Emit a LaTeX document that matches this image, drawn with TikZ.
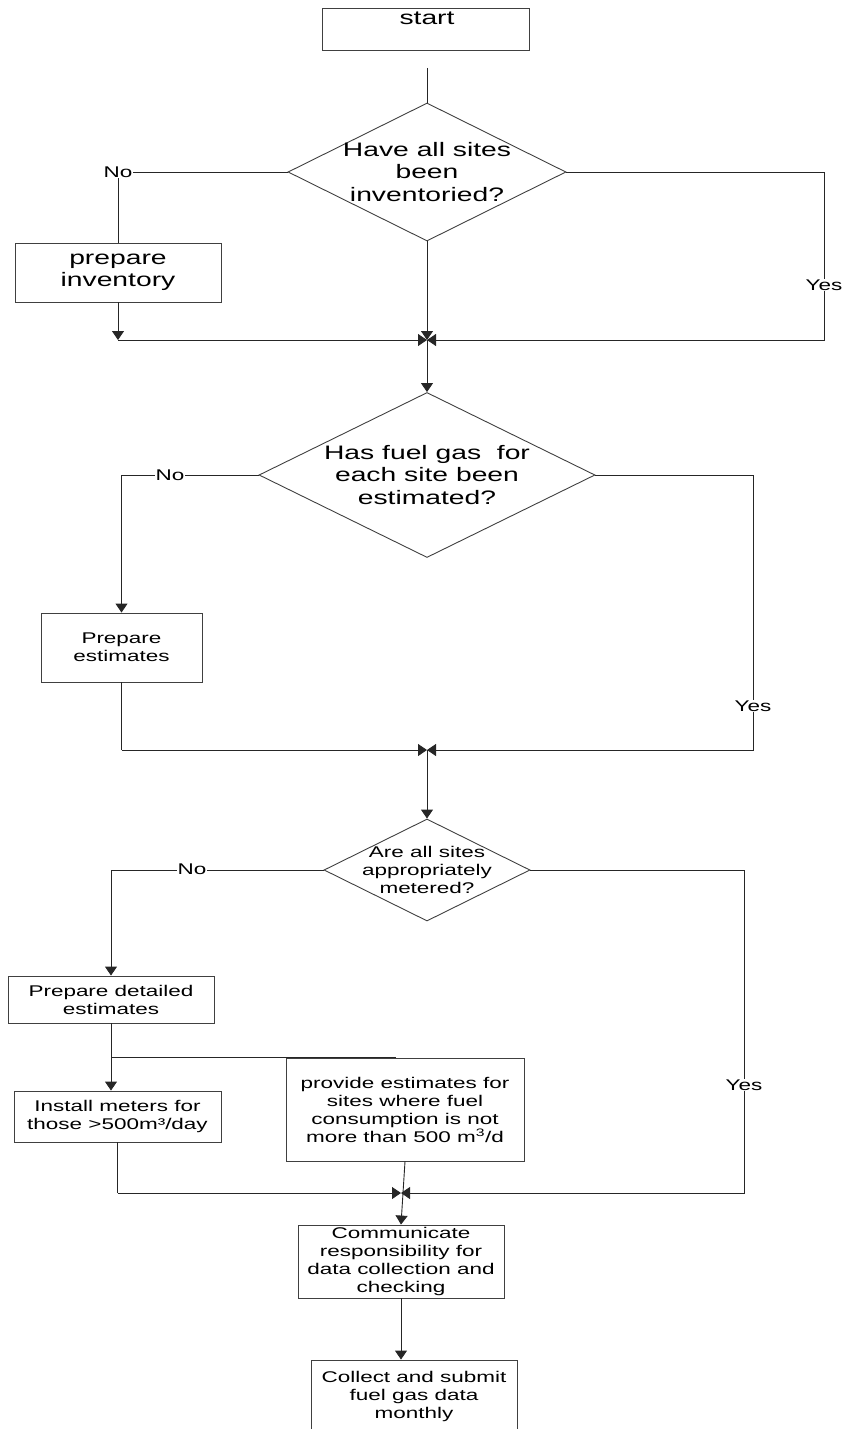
\documentclass[tikz,border=0pt]{standalone}
\usepackage{fontspec}
\setmainfont{Liberation Sans}[FakeStretch=1.45]
\usepackage{tikz}
\usetikzlibrary{calc}
\usetikzlibrary{shapes}
\usetikzlibrary{arrows.meta}
\newcommand{\bigtxt}{\fontsize{19.5}{22.5}\selectfont}
\newcommand{\smalltxt}{\fontsize{15.5}{18}\selectfont}
\tikzset{
  flow/.style={draw=black!85,line width=0.9pt},
  arr/.style={flow,-{Triangle[length=9pt,width=12pt]}}
}
\newcommand{\procbox}[7]{\node[shape=rectangle,draw=black!75,line width=0.9pt,fill=white,inner sep=0pt,minimum width=#4,minimum height=#5,align=center,font=#6] (#1) at ( #2 , #3 ) {#7};}
\newcommand{\decision}[7]{\node[shape=diamond,draw=black!75,line width=0.9pt,inner sep=0pt,minimum width=#4,minimum height=#5] (#1) at ( #2 , #3 ) {}; \node[align=center,font=#6,inner sep=0pt] (#1-t) at ( #2 , #3 ) {#7};}
\newcommand{\branch}[3]{\node[fill=white,inner sep=1pt,font=\smalltxt] (#1) at ( #2 ) {#3};}

\begin{document}
\begin{tikzpicture}[x=1pt,y=-1pt]
        \path[use as bounding box,clip] (0,0) rectangle (846,1429);

        % start
        \procbox{start}{425.5}{29}{207}{42}{\bigtxt}{}
        \node[font=\bigtxt] (start-t) at (427,18) {start};
        \coordinate (s0) at (427,68);

        % question 1
        \decision{q1}{427}{172}{278}{138}{\bigtxt}{Have all sites\\been\\inventoried?}
        \procbox{inv}{118}{272.5}{206}{59}{\bigtxt}{prepare\\inventory}
        \coordinate (c1) at (118,340);
        \coordinate (j1) at (427,340);
        \coordinate (r1) at (824,340);

        % question 2
        \decision{q2}{427}{475}{336}{165}{\bigtxt}{Has fuel gas\ \ for\\each site been\\estimated?}
        \procbox{est}{121.5}{647.5}{161}{69}{\smalltxt}{Prepare\\estimates}
        \coordinate (c2) at (121.5,750);
        \coordinate (j2) at (427,750);
        \coordinate (r2) at (753,750);

        % question 3
        \decision{q3}{427}{870}{206}{102}{\smalltxt}{Are all sites\\appropriately\\metered?}
        \procbox{det}{111}{999.5}{206}{47}{\smalltxt}{Prepare detailed\\estimates}
        \procbox{inst}{117.5}{1116.5}{207}{51}{\smalltxt}{Install meters for\\those >500m³/day}
        \procbox{prov}{405}{1109.5}{238}{103}{\smalltxt}{provide estimates for\\sites where fuel\\consumption is not\\more than 500 m\textsuperscript{3}/d}
        \coordinate (sp) at (111,1057);
        \coordinate (p1) at (396,1057);
        \coordinate (c3) at (117.5,1193);
        \coordinate (j3) at (401,1193);
        \coordinate (r3) at (744,1193);

        % last steps
        \procbox{comm}{401}{1261.5}{206}{73}{\smalltxt}{Communicate\\responsibility for\\data collection and\\checking}
        \procbox{coll}{414}{1396}{206}{72}{\smalltxt}{Collect and submit\\fuel gas data\\monthly}

        % connectors q1
        \draw[flow] (s0) -- (q1.north);
        \draw[flow] (q1.west) -| (inv.north);
        \draw[arr] (inv.south) -- (c1);
        \draw[arr] (c1) -- (j1);
        \draw[arr] (q1.south) -- (j1);
        \draw[arr] (q1.east) -| (r1) -- (j1);
        \draw[arr] (j1) -- (q2.north);
        \branch{no1}{118,172}{No}
        \branch{yes1}{824,285}{Yes}

        % connectors q2
        \draw[arr] (q2.west) -| (est.north);
        \draw[flow] (est.south) -- (c2);
        \draw[arr] (c2) -- (j2);
        \draw[arr] (q2.east) -| (r2) -- (j2);
        \draw[arr] (j2) -- (q3.north);
        \branch{no2}{170,475}{No}
        \branch{yes2}{753,706}{Yes}

        % connectors q3
        \draw[arr] (q3.west) -| (det.north);
        \draw[flow] (det.south) -- (sp) -- (p1);
        \draw[arr] (sp) -- (sp |- inst.north);
        \draw[flow] (inst.south) -- (c3);
        \draw[arr] (c3) -- (j3);
        \draw[arr] (q3.east) -| (r3) -- (j3);
        \draw[arr] (prov.south) -- (comm.north);
        \draw[arr] (comm.south) -- (comm.south |- coll.north);
        \branch{no3}{192,869}{No}
        \branch{yes3}{744,1085}{Yes}
\end{tikzpicture}
\end{document}
